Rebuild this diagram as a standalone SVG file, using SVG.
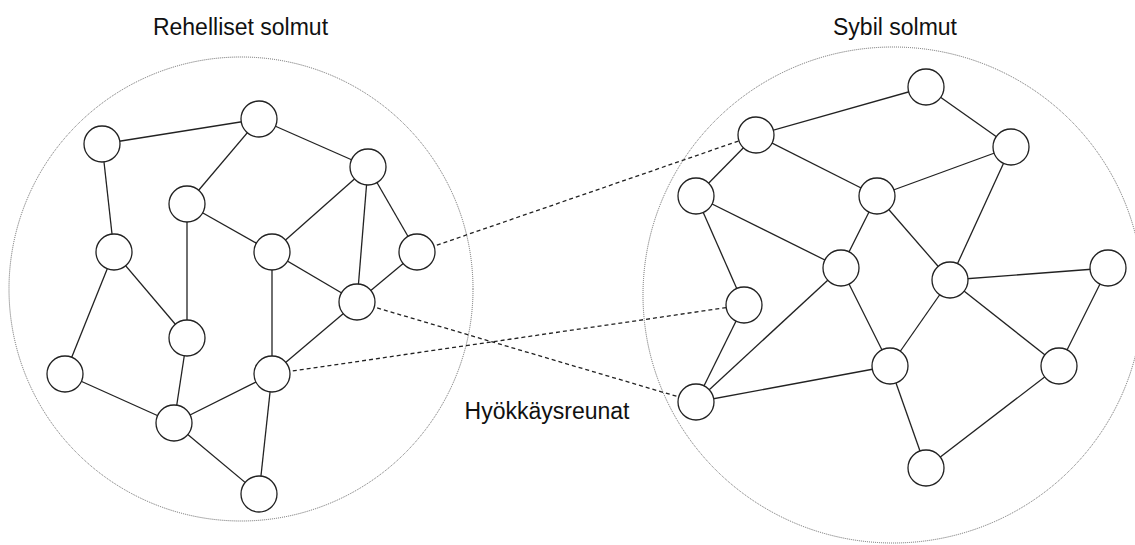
<svg xmlns="http://www.w3.org/2000/svg" width="1135" height="545" viewBox="0 0 1135 545">
<style>
.region{fill:none;stroke:#666;stroke-width:1;stroke-dasharray:1 1}
.node{fill:#fff;stroke:#222;stroke-width:1.3}
.edge{stroke:#222;stroke-width:1.3;fill:none}
.attack{stroke:#222;stroke-width:1.3;stroke-dasharray:4 3;fill:none}
.label{font-family:"Liberation Sans",Arial,sans-serif;font-size:23px;fill:#111;text-anchor:middle}
</style>
<rect width="1135" height="545" fill="#fff"/>
<g id="regions">
<circle class="region" cx="241" cy="289" r="232"/>
<ellipse class="region" cx="893" cy="295" rx="250" ry="248"/>
</g>
<g id="labels">
<text class="label" x="240.5" y="35">Rehelliset solmut</text>
<text class="label" x="895" y="35">Sybil solmut</text>
<text class="label" x="547" y="419">Hyökkäysreunat</text>
</g>
<g id="connectors">
<line class="edge" x1="102" y1="144" x2="259" y2="119"/>
<line class="edge" x1="102" y1="144" x2="114" y2="252"/>
<line class="edge" x1="259" y1="119" x2="187" y2="204"/>
<line class="edge" x1="259" y1="119" x2="368" y2="167"/>
<line class="edge" x1="187" y1="204" x2="272" y2="252"/>
<line class="edge" x1="187" y1="204" x2="187" y2="338"/>
<line class="edge" x1="368" y1="167" x2="272" y2="252"/>
<line class="edge" x1="368" y1="167" x2="357" y2="302"/>
<line class="edge" x1="368" y1="167" x2="417" y2="252"/>
<line class="edge" x1="114" y1="252" x2="187" y2="338"/>
<line class="edge" x1="114" y1="252" x2="65" y2="374"/>
<line class="edge" x1="272" y1="252" x2="357" y2="302"/>
<line class="edge" x1="272" y1="252" x2="272" y2="374"/>
<line class="edge" x1="417" y1="252" x2="357" y2="302"/>
<line class="edge" x1="357" y1="302" x2="272" y2="374"/>
<line class="edge" x1="187" y1="338" x2="174" y2="423"/>
<line class="edge" x1="65" y1="374" x2="174" y2="423"/>
<line class="edge" x1="272" y1="374" x2="174" y2="423"/>
<line class="edge" x1="272" y1="374" x2="259" y2="494"/>
<line class="edge" x1="174" y1="423" x2="259" y2="494"/>
<line class="edge" x1="756" y1="135" x2="926" y2="87"/>
<line class="edge" x1="926" y1="87" x2="1011" y2="147"/>
<line class="edge" x1="756" y1="135" x2="696" y2="196"/>
<line class="edge" x1="756" y1="135" x2="877" y2="196"/>
<line class="edge" x1="877" y1="196" x2="1011" y2="147"/>
<line class="edge" x1="1011" y1="147" x2="950" y2="280"/>
<line class="edge" x1="696" y1="196" x2="841" y2="268"/>
<line class="edge" x1="696" y1="196" x2="744" y2="305"/>
<line class="edge" x1="877" y1="196" x2="841" y2="268"/>
<line class="edge" x1="877" y1="196" x2="950" y2="280"/>
<line class="edge" x1="950" y1="280" x2="1108" y2="268"/>
<line class="edge" x1="841" y1="268" x2="696" y2="402"/>
<line class="edge" x1="841" y1="268" x2="890" y2="366"/>
<line class="edge" x1="744" y1="305" x2="696" y2="402"/>
<line class="edge" x1="696" y1="402" x2="890" y2="366"/>
<line class="edge" x1="950" y1="280" x2="890" y2="366"/>
<line class="edge" x1="950" y1="280" x2="1059" y2="366"/>
<line class="edge" x1="1108" y1="268" x2="1059" y2="366"/>
<line class="edge" x1="890" y1="366" x2="926" y2="468"/>
<line class="edge" x1="1059" y1="366" x2="926" y2="468"/>
<line class="attack" x1="417" y1="252" x2="756" y2="135"/>
<line class="attack" x1="357" y1="302" x2="696" y2="402"/>
<line class="attack" x1="272" y1="374" x2="744" y2="305"/>
</g>
<g id="n-A"><circle class="node" cx="102" cy="144" r="18"/></g>
<g id="n-B"><circle class="node" cx="259" cy="119" r="18"/></g>
<g id="n-C"><circle class="node" cx="368" cy="167" r="18"/></g>
<g id="n-D"><circle class="node" cx="187" cy="204" r="18"/></g>
<g id="n-E"><circle class="node" cx="114" cy="252" r="18"/></g>
<g id="n-F"><circle class="node" cx="272" cy="252" r="18"/></g>
<g id="n-G"><circle class="node" cx="417" cy="252" r="18"/></g>
<g id="n-H"><circle class="node" cx="357" cy="302" r="18"/></g>
<g id="n-I"><circle class="node" cx="187" cy="338" r="18"/></g>
<g id="n-J"><circle class="node" cx="65" cy="374" r="18"/></g>
<g id="n-K"><circle class="node" cx="272" cy="374" r="18"/></g>
<g id="n-L"><circle class="node" cx="174" cy="423" r="18"/></g>
<g id="n-M"><circle class="node" cx="259" cy="494" r="18"/></g>
<g id="s-1"><circle class="node" cx="926" cy="87" r="18"/></g>
<g id="s-2"><circle class="node" cx="756" cy="135" r="18"/></g>
<g id="s-3"><circle class="node" cx="1011" cy="147" r="18"/></g>
<g id="s-4"><circle class="node" cx="696" cy="196" r="18"/></g>
<g id="s-5"><circle class="node" cx="877" cy="196" r="18"/></g>
<g id="s-6"><circle class="node" cx="841" cy="268" r="18"/></g>
<g id="s-7"><circle class="node" cx="950" cy="280" r="18"/></g>
<g id="s-8"><circle class="node" cx="1108" cy="268" r="18"/></g>
<g id="s-9"><circle class="node" cx="744" cy="305" r="18"/></g>
<g id="s-10"><circle class="node" cx="890" cy="366" r="18"/></g>
<g id="s-11"><circle class="node" cx="1059" cy="366" r="18"/></g>
<g id="s-12"><circle class="node" cx="696" cy="402" r="18"/></g>
<g id="s-13"><circle class="node" cx="926" cy="468" r="18"/></g>
</svg>
